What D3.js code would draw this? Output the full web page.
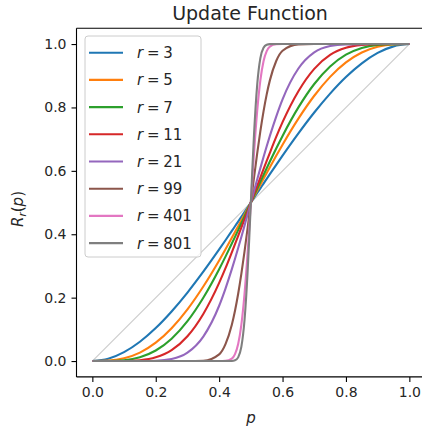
<!DOCTYPE html>
<html>
<head>
<meta charset="utf-8">
<script src="https://cdn.jsdelivr.net/npm/d3@7"></script>
<style>
  html, body { margin: 0; padding: 0; background: #fff; }
  svg { display: block; font-family: "DejaVu Sans", sans-serif; }
</style>
</head>
<body>
<svg id="chart" width="422" height="429"></svg>
<script>
// ---- data ----
const pValues = [0,0.05,0.1,0.15,0.2,0.25,0.3,0.35,0.4,0.42,0.44,0.45,0.46,0.47,0.48,0.49,0.495,0.5,0.505,0.51,0.52,0.53,0.54,0.55,0.56,0.58,0.6,0.65,0.7,0.75,0.8,0.85,0.9,0.95,1];
const rLabels = ["3","5","7","11","21","99","401","801"];
const r3   = [0,0.0073,0.028,0.0608,0.104,0.1563,0.216,0.2818,0.352,0.381,0.4104,0.4253,0.4401,0.4551,0.47,0.485,0.4925,0.5,0.5075,0.515,0.53,0.5449,0.5599,0.5747,0.5896,0.619,0.648,0.7182,0.784,0.8437,0.896,0.9392,0.972,0.9927,1];
const r5   = [0,0.0012,0.0086,0.0266,0.0579,0.1035,0.1631,0.2352,0.3174,0.3525,0.3886,0.4069,0.4253,0.4439,0.4625,0.4813,0.4906,0.5,0.5094,0.5187,0.5375,0.5561,0.5747,0.5931,0.6114,0.6475,0.6826,0.7648,0.8369,0.8965,0.9421,0.9734,0.9914,0.9988,1];
const r7   = [0,0.0002,0.0027,0.0121,0.0333,0.0706,0.126,0.1999,0.2898,0.3294,0.3706,0.3917,0.4131,0.4346,0.4563,0.4781,0.4891,0.5,0.5109,0.5219,0.5437,0.5654,0.5869,0.6083,0.6294,0.6706,0.7102,0.8001,0.874,0.9294,0.9667,0.9879,0.9973,0.9998,1];
const r11  = [0,0,0.0003,0.0027,0.0117,0.0343,0.0782,0.1487,0.2465,0.293,0.343,0.3685,0.3945,0.421,0.4472,0.473,0.4865,0.5,0.5135,0.527,0.5528,0.579,0.6055,0.6315,0.657,0.707,0.7535,0.8513,0.9218,0.9657,0.9883,0.9973,0.9997,1,1];
const r21  = [0,0,0,0.0002,0.001,0.0064,0.0264,0.0772,0.1744,0.2287,0.2898,0.3226,0.3565,0.3915,0.4272,0.4635,0.4815,0.5,0.5185,0.5365,0.5728,0.6085,0.6435,0.6774,0.7102,0.7713,0.8256,0.9228,0.9736,0.9936,0.999,0.9998,1,1,1];
const r99  = [0,0,0,0,0,0,0,0.0009,0.0211,0.0534,0.1146,0.1587,0.2123,0.2749,0.3452,0.4211,0.4604,0.5,0.5396,0.5789,0.6548,0.7251,0.7877,0.8413,0.8854,0.9466,0.9789,0.9991,1,1,1,1,1,1,1];
const r401 = [0,0,0,0,0,0,0,0,0,0.0006,0.0078,0.0221,0.054,0.1144,0.2113,0.3444,0.4208,0.5,0.5792,0.6556,0.7887,0.8856,0.946,0.9779,0.9922,0.9994,1,1,1,1,1,1,1,1,1];
const r801 = [0,0,0,0,0,0,0,0,0,0,0.0003,0.0022,0.0116,0.0445,0.1286,0.2857,0.3887,0.5,0.6113,0.7143,0.8714,0.9555,0.9884,0.9978,0.9997,1,1,1,1,1,1,1,1,1,1];
const diagP = [0, 1];
const diagR = [0, 1];
const tickValues = [0, 0.2, 0.4, 0.6, 0.8, 1.0];
const titleText = "Update Function";

const seriesValues = [r3, r5, r7, r11, r21, r99, r401, r801];
const colors = ["#1f77b4","#ff7f0e","#2ca02c","#d62728","#9467bd","#8c564b","#e377c2","#7f7f7f"];

// ---- layout ----
const svg = d3.select("#chart");
const padL = 76.5, padR = 425.2, padT = 28.2, padB = 376.9;
const x = d3.scaleLinear().domain([-0.05, 1.05]).range([padL, padR]);
const y = d3.scaleLinear().domain([-0.05, 1.05]).range([padB, padT]);

const plot = svg.append("g");
const line = d3.line().x(d => x(d[0])).y(d => y(d[1])).curve(d3.curveMonotoneX);

// diagonal reference
plot.append("path")
  .datum(diagP.map((p, i) => [p, diagR[i]]))
  .attr("d", d3.line().x(d => x(d[0])).y(d => y(d[1])))
  .attr("fill", "none").attr("stroke", "#cccccc").attr("stroke-width", 1.1);

seriesValues.forEach((vals, i) => {
  plot.append("path")
    .datum(pValues.map((p, j) => [p, vals[j]]))
    .attr("d", line)
    .attr("fill", "none")
    .attr("stroke", colors[i])
    .attr("stroke-width", 2.1)
    .attr("stroke-linejoin", "round")
    .attr("stroke-linecap", "butt");
});

// axes
const fontSize = 14;
const xAxis = svg.append("g").attr("transform", `translate(0,${padB})`)
  .call(d3.axisBottom(x).tickValues(tickValues).tickFormat(d3.format(".1f")).tickSizeOuter(0).tickSize(5).tickPadding(5));
const yAxis = svg.append("g").attr("transform", `translate(${padL},0)`)
  .call(d3.axisLeft(y).tickValues(tickValues).tickFormat(d3.format(".1f")).tickSizeOuter(0).tickSize(5).tickPadding(5));
[xAxis, yAxis].forEach(a => {
  a.select(".domain").remove();
  a.selectAll(".tick line").attr("stroke", "#000").attr("stroke-width", 1.1);
  a.selectAll(".tick text").attr("fill", "#262626")
    .style("font-family", "DejaVu Sans").style("font-size", fontSize + "px");
});

// spines
const spines = svg.append("g").attr("stroke", "#000").attr("stroke-width", 1.1).attr("fill", "none");
spines.append("line").attr("x1", padL).attr("x2", padL).attr("y1", padT).attr("y2", padB);
spines.append("line").attr("x1", padL).attr("x2", padR).attr("y1", padB).attr("y2", padB);
spines.append("line").attr("x1", padL).attr("x2", padR).attr("y1", padT).attr("y2", padT);
spines.append("line").attr("x1", padR).attr("x2", padR).attr("y1", padT).attr("y2", padB);

// title
svg.append("text").attr("x", 250).attr("y", 20)
  .attr("text-anchor", "middle").attr("fill", "#262626")
  .style("font-size", "19px").text(titleText);

// x label
svg.append("text").attr("x", 251).attr("y", 423)
  .attr("text-anchor", "middle").attr("fill", "#262626")
  .style("font-size", "15px").style("font-style", "italic").text("p");

// y label
const yl = svg.append("text").attr("transform", `translate(23,209) rotate(-90)`)
  .attr("text-anchor", "middle").attr("fill", "#262626").style("font-size", "15px");
yl.append("tspan").style("font-style", "italic").text("R");
yl.append("tspan").style("font-style", "italic").style("font-size", "10.5px").attr("dy", 3).text("r");
yl.append("tspan").attr("dy", -3).text("(");
yl.append("tspan").style("font-style", "italic").text("p");
yl.append("tspan").text(")");

// legend
const lg = svg.append("g");
lg.append("rect").attr("x", 85).attr("y", 36).attr("width", 116).attr("height", 221)
  .attr("rx", 3).attr("fill", "#fff").attr("fill-opacity", 0.8)
  .attr("stroke", "#cccccc").attr("stroke-width", 1);
rLabels.forEach((lab, i) => {
  const yy = 52.7 + i * 27.2;
  lg.append("line").attr("x1", 89).attr("x2", 123).attr("y1", yy).attr("y2", yy)
    .attr("stroke", colors[i]).attr("stroke-width", 2.1);
  const t = lg.append("text").attr("x", 137).attr("y", yy + 5.5).attr("fill", "#262626")
    .style("font-size", "15px");
  t.append("tspan").style("font-style", "italic").text("r");
  t.append("tspan").text("\u2005=\u2005" + lab);
});
</script>
</body>
</html>
